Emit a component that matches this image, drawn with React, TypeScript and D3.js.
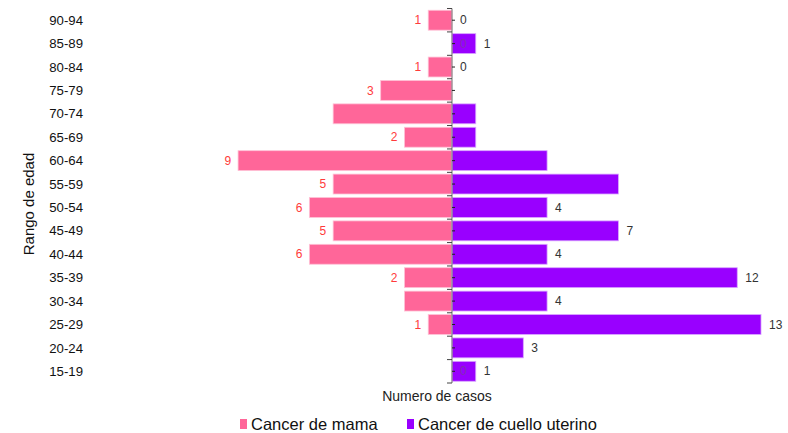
import React from "react";
import * as d3 from "d3";

// Age groups, top to bottom
const ageGroups = [
  "90-94", "85-89", "80-84", "75-79", "70-74", "65-69", "60-64", "55-59",
  "50-54", "45-49", "40-44", "35-39", "30-34", "25-29", "20-24", "15-19",
];

// Number of cases per age group
const mamaCases = [1, 0, 1, 3, 5, 2, 9, 5, 6, 5, 6, 2, 2, 1, 0, 0];
const cuelloCases = [0, 1, 0, 0, 1, 1, 4, 7, 4, 7, 4, 12, 4, 13, 3, 1];

// Which value labels are printed
const mamaLabelShown = [true, true, true, true, false, true, true, true, true, true, true, true, false, true, false, true];
const cuelloLabelShown = [true, true, true, false, false, false, false, false, true, true, true, true, true, true, true, true];

const seriesNames = ["Cancer de mama", "Cancer de cuello uterino"];
const seriesColors = ["#FF6699", "#9900FF"];

const WIDTH = 788;
const HEIGHT = 433;
const FONT = "'Liberation Sans', Arial, sans-serif";

export default function App() {
  const centerX = 452;
  const unit = 23.77;
  const x = d3
    .scaleLinear()
    .domain([-10, 14])
    .range([centerX - 10 * unit, centerX + 14 * unit]);

  const y = d3
    .scaleBand<string>()
    .domain(ageGroups)
    .range([8.5, 383])
    .paddingInner(0.15)
    .paddingOuter(0.075);

  const step = y.step();
  const bw = y.bandwidth();
  const boundaries = d3.range(ageGroups.length + 1).map((i) => 8.5 + i * step);

  return (
    <div style={{ position: "fixed", left: 0, top: 0, width: WIDTH, height: HEIGHT, overflow: "hidden" }}>
      <svg width={WIDTH} height={HEIGHT} style={{ display: "block", background: "#fff" }} fontFamily={FONT}>
        {/* category labels */}
        {ageGroups.map((g) => (
          <text key={g} x={83} y={y(g)! + bw / 2} dy="0.35em" textAnchor="end" fontSize={13.2} fill="#111">
            {g}
          </text>
        ))}
        <text
          transform={`translate(34, 204) rotate(-90)`}
          textAnchor="middle"
          fontSize={15}
          fill="#111"
        >
          Rango de edad
        </text>

        {/* mama bars (left) */}
        {ageGroups.map((g, i) =>
          mamaCases[i] > 0 ? (
            <rect
              key={"m" + g}
              x={x(-mamaCases[i])}
              y={y(g)}
              width={x(0) - x(-mamaCases[i])}
              height={bw}
              fill={seriesColors[0]}
              stroke="#ffc2d6"
              strokeWidth={0.8}
            />
          ) : null
        )}

        {/* mama labels */}
        {ageGroups.map((g, i) =>
          mamaLabelShown[i] && mamaCases[i] > 0 ? (
            <text
              key={"ml" + g}
              x={x(-mamaCases[i]) - 7}
              y={y(g)! + bw / 2}
              dy="0.35em"
              textAnchor="end"
              fontSize={12}
              fill="#FF3B3B"
            >
              {mamaCases[i]}
            </text>
          ) : null
        )}

        {/* cuello bars (right) */}
        {ageGroups.map((g, i) =>
          cuelloCases[i] > 0 ? (
            <rect
              key={"c" + g}
              x={x(0)}
              y={y(g)}
              width={x(cuelloCases[i]) - x(0)}
              height={bw}
              fill={seriesColors[1]}
              stroke="#d9a6ff"
              strokeWidth={0.8}
            />
          ) : null
        )}

        {/* zero mama labels seen through the purple bars */}
        {ageGroups.map((g, i) =>
          mamaLabelShown[i] && mamaCases[i] === 0 ? (
            <text
              key={"mz" + g}
              x={x(0) + 8}
              y={y(g)! + bw / 2}
              dy="0.35em"
              textAnchor="start"
              fontSize={12}
              fill="#7d3aa0"
              opacity={0.8}
            >
              {mamaCases[i]}
            </text>
          ) : null
        )}

        {/* cuello labels */}
        {ageGroups.map((g, i) =>
          cuelloLabelShown[i] ? (
            <text
              key={"cl" + g}
              x={cuelloCases[i] > 0 ? x(cuelloCases[i]) + 8 : x(0) + 8}
              y={y(g)! + bw / 2}
              dy="0.35em"
              textAnchor="start"
              fontSize={12}
              fill="#333"
            >
              {cuelloCases[i]}
            </text>
          ) : null
        )}

        {/* central axis */}
        <line x1={x(0)} x2={x(0)} y1={8.5} y2={383} stroke="#888" strokeWidth={1.2} />
        {boundaries.map((b, i) => (
          <line key={"tb" + i} x1={x(0) - 5} x2={x(0)} y1={b} y2={b} stroke="#444" strokeWidth={1} />
        ))}
        {ageGroups.map((g) => (
          <line
            key={"tc" + g}
            x1={x(0)}
            x2={x(0) + 3}
            y1={y(g)! + bw / 2}
            y2={y(g)! + bw / 2}
            stroke="#222"
            strokeWidth={1}
          />
        ))}

        <text x={437} y={401} textAnchor="middle" fontSize={14} fill="#222">
          Numero de casos
        </text>

        {/* legend */}
        <rect x={240} y={419} width={7} height={10} fill={seriesColors[0]} />
        <text x={251} y={430} fontSize={16.5} fill="#111">
          {seriesNames[0]}
        </text>
        <rect x={407} y={419} width={7} height={10} fill={seriesColors[1]} />
        <text x={418} y={430} fontSize={16.5} fill="#111">
          {seriesNames[1]}
        </text>
      </svg>
    </div>
  );
}
